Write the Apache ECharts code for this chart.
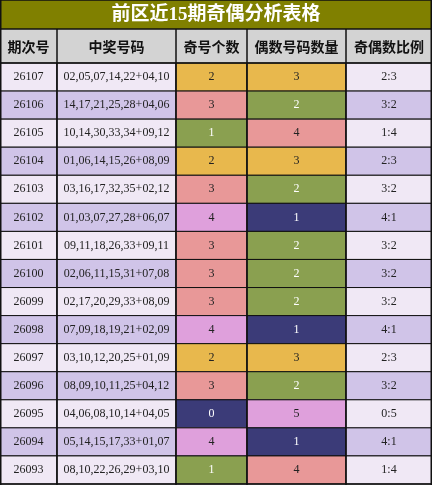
<!DOCTYPE html><html><head><meta charset="utf-8"><script src="https://cdn.jsdelivr.net/npm/echarts@6/dist/echarts.min.js"></script>
<style>html,body{margin:0;padding:0;background:#fff}#c{width:432px;height:485px}</style></head><body><div id="c"></div><script>
var title='前区近15期奇偶分析表格';
var headers=['期次号','中奖号码','奇号个数','偶数号码数量','奇偶数比例'];
var periods=['26107','26106','26105','26104','26103','26102','26101','26100','26099','26098','26097','26096','26095','26094','26093'];
var numbers=['02,05,07,14,22+04,10','14,17,21,25,28+04,06','10,14,30,33,34+09,12','01,06,14,15,26+08,09','03,16,17,32,35+02,12','01,03,07,27,28+06,07','09,11,18,26,33+09,11','02,06,11,15,31+07,08','02,17,20,29,33+08,09','07,09,18,19,21+02,09','03,10,12,20,25+01,09','08,09,10,11,25+04,12','04,06,08,10,14+04,05','05,14,15,17,33+01,07','08,10,22,26,29+03,10'];
var oddCounts=[2,3,1,2,3,4,3,3,3,4,2,3,0,4,1];
var evenCounts=[3,2,4,3,2,1,2,2,2,1,3,2,5,1,4];
var edges=[0,57,176,247,346,432];
var oddPal=['#3b3b78','#8aa050','#e8b84d','#e89898','#dfa0dc'];
var evenPal=[null,'#3b3b78','#8aa050','#e8b84d','#e89898','#dfa0dc'];
var rowBg=['#f0e8f5','#d0c4e8'];
var data=[];
periods.forEach(function(p,i){
  data.push([0,i,p,rowBg[i%2],'#222']);
  data.push([1,i,numbers[i],rowBg[i%2],'#222']);
  var oc=oddPal[oddCounts[i]], ec=evenPal[evenCounts[i]];
  data.push([2,i,String(oddCounts[i]),oc,(oc=='#3b3b78'||oc=='#8aa050')?'#fff':'#222']);
  data.push([3,i,String(evenCounts[i]),ec,(ec=='#3b3b78'||ec=='#8aa050')?'#fff':'#222']);
  data.push([4,i,oddCounts[i]+':'+evenCounts[i],rowBg[i%2],'#222']);
});
var ch=echarts.init(document.getElementById('c'));
var g=[{type:'rect',shape:{x:0,y:0,width:432,height:29},style:{fill:'#808000'}},
{type:'text',x:216,y:15,style:{text:title,fill:'#fff',font:'bold 19px "Liberation Serif","Noto Sans CJK SC"',align:'center',verticalAlign:'middle'}},
{type:'rect',shape:{x:0,y:29,width:432,height:34},style:{fill:'#d3d3d3'}}];
headers.forEach(function(h,j){
  g.push({type:'text',x:(edges[j]+edges[j+1])/2,y:47,style:{text:h,fill:'#111',font:'bold 14px "Noto Sans CJK SC"',align:'center',verticalAlign:'middle'}});
});
[0,29,63,484].forEach(function(y){g.push({type:'line',shape:{x1:0,y1:y,x2:432,y2:y},style:{stroke:'#111',lineWidth:1.5},z:10});});
edges.forEach(function(x,j){var xx=j==0?0.75:(j==5?431.25:x);g.push({type:'line',shape:{x1:xx,y1:j==0||j==5?0:29,x2:xx,y2:485},style:{stroke:'#111',lineWidth:1.5},z:10});});
ch.setOption({animation:false,graphic:g,
grid:{left:0,right:0,top:63,bottom:1},
xAxis:{type:'value',min:0,max:432,show:false},
yAxis:{type:'category',data:periods,inverse:true,show:false},
series:[{type:'custom',data:data,renderItem:function(params,api){
  var c=api.value(0),r=api.value(1);
  var d=data[params.dataIndex];
  var y=api.coord([0,r])[1],h=api.size([0,1])[1];
  var x0=edges[c],x1=edges[c+1];
  return {type:'group',children:[
   {type:'rect',shape:{x:x0,y:y-h/2,width:x1-x0,height:h},style:{fill:d[3],stroke:'#111',lineWidth:1}},
   {type:'text',x:(x0+x1)/2,y:y,style:{text:d[2],fill:d[4],font:'12px "Liberation Serif"',align:'center',verticalAlign:'middle'}}]};
}}]});
</script></body></html>
